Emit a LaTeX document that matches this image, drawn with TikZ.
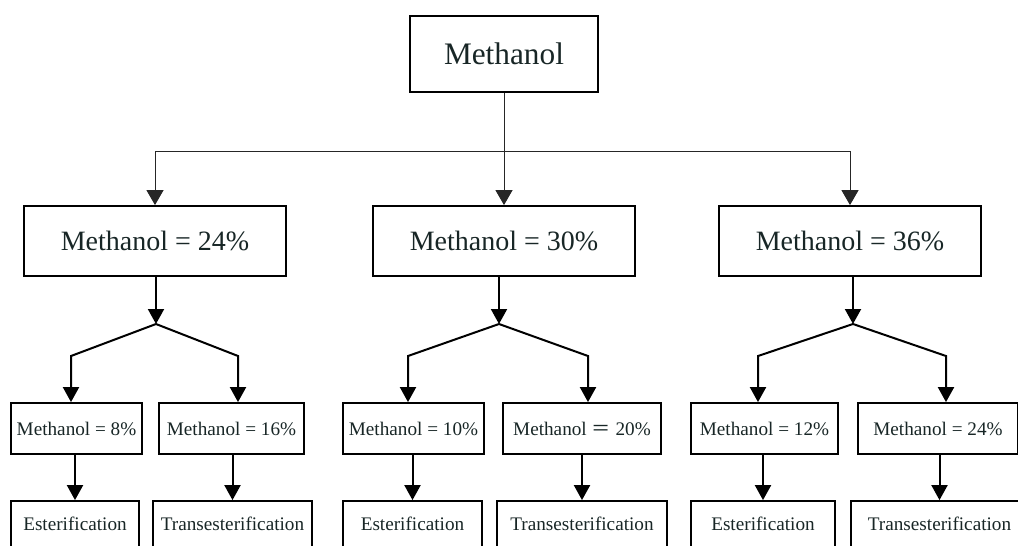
\documentclass[tikz,border=0pt]{standalone}
\usepackage{fontspec}
\setmainfont{Liberation Serif}
\newfontfamily\cjk{Noto Sans CJK SC}
\usetikzlibrary{arrows.meta,positioning}
\definecolor{ink}{RGB}{24,38,38}

\begin{document}
\begin{tikzpicture}[x=1pt, y=-1pt,
  block/.style={draw, line width=1.8pt, text=ink, inner sep=0pt, minimum height=51pt, font=\fontsize{19.2}{23}\selectfont},
  big/.style={minimum width=188pt, minimum height=76pt, font=\fontsize{31.3}{36}\selectfont},
  mid/.style={minimum width=262pt, minimum height=70pt, font=\fontsize{28}{32}\selectfont},
  low/.style={minimum height=46pt},
  thinarrow/.style={-{Triangle[width=17pt,length=15pt]}, line width=1pt, draw=black!85},
  arrow/.style={-{Triangle[width=16pt,length=15pt]}, line width=2pt, line join=miter}]

  \useasboundingbox (0,0) rectangle (1018,546);
  \clip (0,0) rectangle (1018,546);

  % Top block
  \node[block, big] (M) at (504,54) {Methanol};

  % Second row
  \node[block, mid, below of=M, node distance=187pt] (A2) {Methanol = 30\%};
  \node[block, mid, left of=A2, node distance=349pt] (A1) {Methanol = 24\%};
  \node[block, mid, right of=A2, node distance=346pt] (A3) {Methanol = 36\%};

  % Third row
  \node[block, minimum width=131pt] (B1) at (76.5,428.5) {Methanol = 8\%};
  \node[block, minimum width=145pt] (B2) at (231.5,428.5) {Methanol = 16\%};
  \node[block, minimum width=141pt] (B3) at (413.5,428.5) {Methanol = 10\%};
  \node[block, minimum width=158pt] (B4) at (582,428.5) {Methanol {\cjk ＝} 20\%};
  \node[block, minimum width=147pt] (B5) at (764.5,428.5) {Methanol = 12\%};
  \node[block, minimum width=160pt] (B6) at (938,428.5) {Methanol = 24\%};

  % Fourth row
  \node[block, low, minimum width=128pt] (C1) at (75,524) {Esterification};
  \node[block, low, minimum width=159pt] (C2) at (232.5,524) {Transesterification};
  \node[block, low, minimum width=139pt] (C3) at (412.5,524) {Esterification};
  \node[block, low, minimum width=170pt] (C4) at (582,524) {Transesterification};
  \node[block, low, minimum width=144pt] (C5) at (763,524) {Esterification};
  \node[block, low, minimum width=177pt] (C6) at (939.5,524) {Transesterification};

  % Branch points
  \coordinate (H) at (504,151);
  \coordinate (J1) at (156,324);
  \coordinate (L1) at (71,356);
  \coordinate (R1) at (238,356);
  \coordinate (J2) at (499,324);
  \coordinate (L2) at (408,356);
  \coordinate (R2) at (588,356);
  \coordinate (J3) at (853,324);
  \coordinate (L3) at (758,356);
  \coordinate (R3) at (946,356);

  % Top arrows
  \draw[thinarrow] (M.south) -- (A2.north);
  \draw[thinarrow] (H) -| (A1.north);
  \draw[thinarrow] (H) -| (A3.north);

  % Down to branch points
  \draw[arrow] (J1 |- A1.south) -- (J1);
  \draw[arrow] (J2 |- A2.south) -- (J2);
  \draw[arrow] (J3 |- A3.south) -- (J3);

  % Branches into third row
  \draw[arrow] (J1) -- (L1) -- (L1 |- B1.north);
  \draw[arrow] (J1) -- (R1) -- (R1 |- B2.north);
  \draw[arrow] (J2) -- (L2) -- (L2 |- B3.north);
  \draw[arrow] (J2) -- (R2) -- (R2 |- B4.north);
  \draw[arrow] (J3) -- (L3) -- (L3 |- B5.north);
  \draw[arrow] (J3) -- (R3) -- (R3 |- B6.north);

  % Third row to fourth row
  \draw[arrow] (C1.north |- B1.south) -- (C1.north);
  \draw[arrow] (C2.north |- B2.south) -- (C2.north);
  \draw[arrow] (C3.north |- B3.south) -- (C3.north);
  \draw[arrow] (C4.north |- B4.south) -- (C4.north);
  \draw[arrow] (C5.north |- B5.south) -- (C5.north);
  \draw[arrow] (C6.north |- B6.south) -- (C6.north);

\end{tikzpicture}
\end{document}
